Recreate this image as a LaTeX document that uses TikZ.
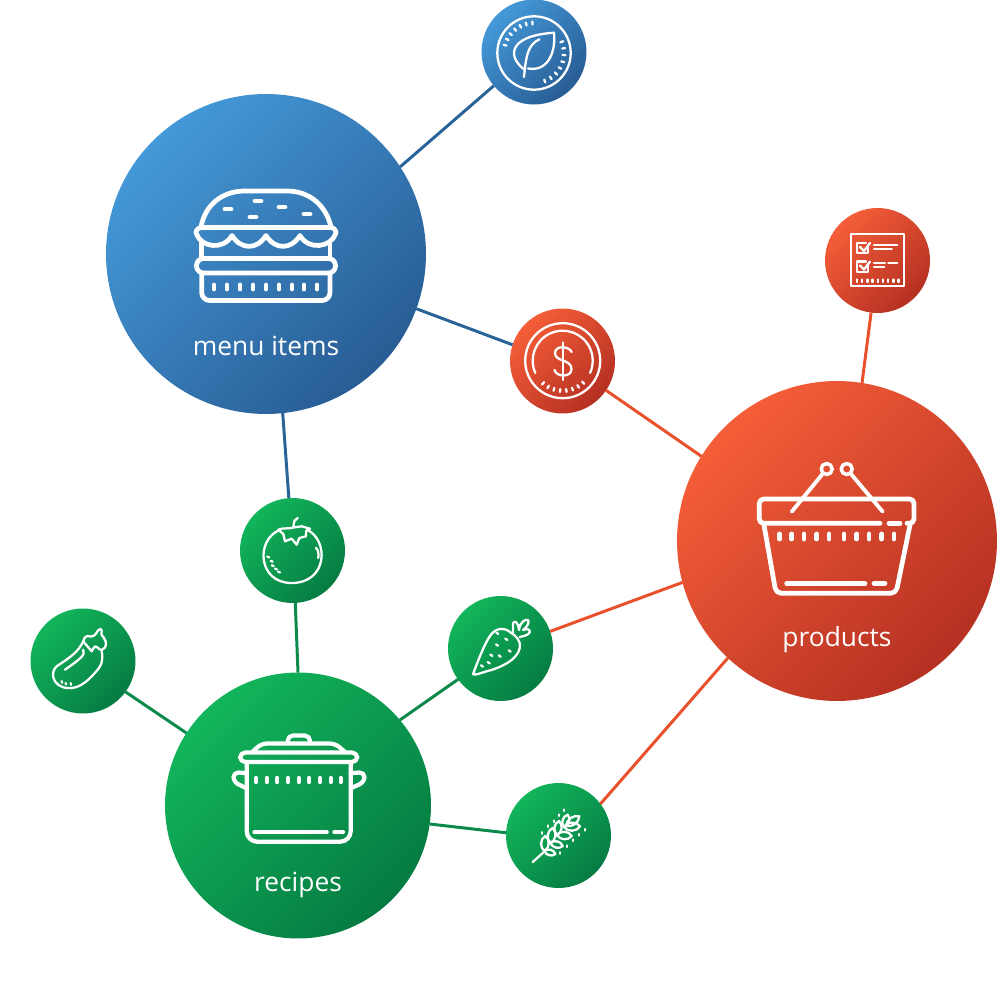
\documentclass[tikz,border=0pt]{standalone}
\usepackage{fontspec}
\setmainfont{Open Sans}
\usepackage{xcolor}

\definecolor{bluetop}{HTML}{4499D8}
\definecolor{bluelow}{HTML}{285C94}
\definecolor{redtop}{HTML}{F55E38}
\definecolor{redlow}{HTML}{B53022}
\definecolor{greentop}{HTML}{12B55B}
\definecolor{greenlow}{HTML}{057B42}
\definecolor{blueline}{HTML}{2A6398}
\definecolor{redline}{HTML}{E8512B}
\definecolor{greenline}{HTML}{0B8A4C}

\tikzset{
  hub/.style={circle, inner sep=0pt, outer sep=0pt, minimum size=#1},
  hub/.default=6.4cm,
  spoke/.style={hub=2.1cm},
  bluefill/.style={shade, top color=bluetop, bottom color=bluelow, shading angle=45},
  redfill/.style={shade, top color=redtop, bottom color=redlow, shading angle=45},
  greenfill/.style={shade, top color=greentop, bottom color=greenlow, shading angle=45},
  link/.style={line width=1.7pt},
  bigicon/.style={draw=white, line width=2.7pt, line cap=round, line join=round},
  thinicon/.style={draw=white, line width=1.3pt, line cap=round, line join=round},
  hublabel/.style={text=white, font=\fontsize{15}{18}\selectfont, inner sep=0pt, anchor=base}
}

\begin{document}
\begin{tikzpicture}[x=0.02cm, y=-0.02cm]

\useasboundingbox (0,0) rectangle (1000,1000);

% circles
\node[hub, bluefill] (menu) at (266,254) {};
\node[hub, redfill] (products) at (837,541) {};
\node[hub=5.32cm, greenfill] (recipes) at (298,805.5) {};

\node[spoke, bluefill] (leaf) at (534,52) {};
\node[spoke, redfill] (dollar) at (562.5,361) {};
\node[spoke, redfill] (checklist) at (877.5,260.5) {};
\node[spoke, greenfill] (tomato) at (292.5,550.5) {};
\node[spoke, greenfill] (eggplant) at (83,661) {};
\node[spoke, greenfill] (carrot) at (500.5,648.5) {};
\node[spoke, greenfill] (wheat) at (558.5,835.5) {};

% connectors
\draw[link, blueline] (menu.33.6) -- (leaf.220.2);
\draw[link, blueline] (menu.-20.9) -- (dollar.162.3);
\draw[link, blueline] (menu.-84.5) -- (tomato.94.5);
\draw[link, redline] (dollar.-34.6) -- (products.148.1);
\draw[link, redline] (checklist.-97.5) -- (products.81.8);
\draw[link, redline] (carrot.19.8) -- (products.195.4);
\draw[link, redline] (wheat.37.1) -- (products.227.8);
\draw[link, greenline] (tomato.-87.5) -- (recipes.90);
\draw[link, greenline] (eggplant.-36.4) -- (recipes.147.8);
\draw[link, greenline] (carrot.216.2) -- (recipes.40.4);
\draw[link, greenline] (wheat.177.8) -- (recipes.-8.1);

% labels
\node[hublabel] (menulabel) at (266,355) {menu items};
\node[hublabel] (productslabel) at (837,646) {products};
\node[hublabel] (recipeslabel) at (298,891) {recipes};

% burger
\draw[bigicon] (201,227) .. controls (205,205) and (222,191) .. (245,191) -- (287,191) .. controls (309,191) and (326,205) .. (331,227);
\draw[bigicon] (201,227.5) -- (331,227.5) .. controls (335,228) and (337,232) .. (335.5,234) .. controls (331,247) and (309,251) .. (300,235.5) .. controls (291,250) and (275,250) .. (266,235.5) .. controls (257,250) and (241,250) .. (232,235.5) .. controls (223,251) and (201,247) .. (196.5,234) .. controls (195,232) and (197,228) .. (201,227.5);
\draw[bigicon] (201.7,243) -- (201.7,258);
\draw[bigicon] (330,243) -- (330,258);
\draw[bigicon, rounded corners=4pt] (196.5,258.5) rectangle (335.5,273);
\draw[bigicon, rounded corners=4.5pt] (201.7,273) -- (201.7,300.5) -- (330,300.5) -- (330,273);
\foreach \tx in {214,227,240,253,266,279,292,304,317}
  \draw[bigicon] (\tx,285) -- (\tx,289);
\foreach \sx/\sy in {228/209, 258/201, 282/207, 307/214, 253/217}
  \draw[bigicon] (\sx-3,\sy) -- (\sx+3,\sy);

% basket
\draw[bigicon, line width=2pt] (826.7,469) circle (5.5);
\draw[bigicon, line width=2pt] (846.7,469) circle (5.5);
\draw[bigicon, line width=2.2pt] (822.5,474) -- (791.7,511.7);
\draw[bigicon, line width=2.2pt] (851,474) -- (882.7,511.7);
\draw[bigicon, rounded corners=2.5pt] (880,523.3) -- (759.3,523.3) -- (759.3,499) -- (914,499) -- (914,523.3) -- (907,523.3);
\draw[bigicon] (889,523.3) -- (900,523.3);
\draw[bigicon, rounded corners=3pt] (764,525) -- (776,593.3) -- (896,593.3) -- (910,525);
\draw[bigicon] (786.7,583.3) -- (865,583.3);
\draw[bigicon] (874,583.3) -- (885,583.3);
\foreach \tx in {779.5,791.7,804,816.7,829,844,856.7,869,881.7,894}
  \draw[bigicon] (\tx,534) -- (\tx,539);

% pot
\draw[bigicon, line width=2.4pt, rounded corners=3pt] (287.7,743) -- (287.7,735.5) -- (310,735.5) -- (310,743);
\draw[bigicon, line width=2.4pt, rounded corners=3pt] (253.3,751) -- (261.7,743.5) -- (335,743.5) -- (344,751);
\draw[bigicon, line width=2.4pt, rounded corners=3pt] (240,752.5) rectangle (357.3,762);
\draw[bigicon, line width=2.4pt, rounded corners=6pt] (246.7,762) -- (246.7,841.7) -- (350.7,841.7) -- (350.7,762);
\draw[bigicon, line width=2.4pt] (254.5,832.3) -- (326.7,832.3);
\draw[bigicon, line width=2.4pt] (334.5,832.3) -- (343,832.3);
\draw[bigicon, line width=2.4pt, rounded corners=3pt] (246.7,773.3) -- (233.5,772) -- (233.5,782) -- (246.7,788.3);
\draw[bigicon, line width=2.4pt, rounded corners=3pt] (350.7,773.3) -- (364.5,772) -- (364.5,782) -- (350.7,788.3);
\foreach \tx in {256,266.7,277.3,288,298.7,309.3,320,330.7,340.7}
  \draw[bigicon, line width=2.4pt] (\tx,778) -- (\tx,782);

% leaf
\draw[thinicon] (534,53) circle (36.7);
\draw[thinicon] (525,70) .. controls (508,58) and (506,36) .. (554,32.7) .. controls (556,52) and (548,72) .. (528,68.5);
\draw[thinicon] (539.3,39.3) .. controls (527,45) and (526,58) .. (524,77);
\begin{scope}[shift={(534,53)}]
\foreach \a in {195,207,...,273}
  \draw[thinicon] (\a:28.5) -- (\a:31.5);
\foreach \a in {-22,-9,...,80}
  \draw[thinicon] (\a:28.5) -- (\a:31.5);
\end{scope}

% dollar
\draw[thinicon] (562.7,360.7) circle (37.5);
\begin{scope}[shift={(562.7,360.7)}]
\draw[thinicon] (156:30) arc[start angle=156, end angle=384, radius=30];
\foreach \a in {47,59,...,131}
  \draw[thinicon] (\a:28.5) -- (\a:31.5);
\end{scope}
\draw[thinicon] (571.7,352) .. controls (569,346) and (555,345) .. (555,353) .. controls (555,362) and (571.5,359) .. (571.5,369) .. controls (571.5,378) and (556,377) .. (554.5,370);
\draw[thinicon] (562.7,342.5) -- (562.7,380);

% checklist
\draw[thinicon] (851,234) rectangle (904,286.3);
\draw[thinicon] (868.3,246) -- (868.3,253) -- (857.3,253) -- (857.3,243) -- (866,243);
\draw[thinicon] (860,247) -- (864,251) -- (870,243);
\draw[thinicon] (868.3,264.5) -- (868.3,272) -- (857.3,272) -- (857.3,261.5) -- (866,261.5);
\draw[thinicon] (860,265.5) -- (864,269.5) -- (870,261.5);
\draw[thinicon] (874,244.7) -- (897.3,244.7);
\draw[thinicon] (874,248.7) -- (891.7,248.7);
\draw[thinicon] (874,263) -- (885,263);
\draw[thinicon] (888.3,263) -- (897.3,263);
\draw[thinicon] (874,267.3) -- (884.3,267.3);
\foreach \tx in {857,862.2,867.4,872.6,877.8,883,888.2,893.4,898.6}
  \draw[thinicon] (\tx,279.5) -- (\tx,282);

% tomato
\draw[thinicon] (280,529.7) .. controls (255,540) and (258,583) .. (291.5,583) .. controls (328,583) and (329,540) .. (307,529.7);
\draw[thinicon] (293.3,527.5) .. controls (290,529) and (283,527.5) .. (278.3,529.7) -- (283.3,534) -- (285,541.3) -- (291.7,538.7) -- (296.7,544.7) -- (299.3,538) -- (306,536.3) -- (306,531.3) -- (310,528.7) -- (301.7,526.3) -- (293.3,527.5);
\draw[thinicon] (293.3,527.5) .. controls (294,521) and (294.5,519) .. (297.7,518);
\draw[thinicon] (316,548) .. controls (318,549.5) and (319,553) .. (318.3,558);
\foreach \dx/\dy in {268.3/557, 271.7/561.3, 272.7/565.7, 276/569, 279/572}
  \draw[thinicon] (\dx-1,\dy-0.4) -- (\dx+1,\dy+0.4);

% eggplant
\draw[thinicon] (83.3,641.3) .. controls (78,652) and (72,656) .. (56.7,666.3) .. controls (50,672) and (52,686) .. (66.7,688) .. controls (80,690) and (91,678) .. (99,668) .. controls (104,660) and (102,655) .. (101.7,651.7);
\draw[thinicon] (83.3,641.3) .. controls (84,637) and (87,635) .. (90,636.5) .. controls (94,637) and (96,634) .. (98.3,630) .. controls (100,628) and (102,629) .. (101.7,631) .. controls (101,635) and (102,636) .. (104,638) .. controls (107,642) and (107,648) .. (101.7,650) .. controls (99,650) and (97,646) .. (95,646.5) .. controls (93,648) and (92,651) .. (91.7,651.3) .. controls (89,648) and (86,645) .. (83.3,641.3);
\draw[thinicon] (65,669.7) .. controls (73,664) and (82,658) .. (83.5,654) -- (83.3,649.7);
\foreach \dx/\dy in {61.7/682, 65.7/683.7, 70.7/684}
  \draw[thinicon] (\dx,\dy-0.8) -- (\dx+0.4,\dy+0.8);

% carrot
\draw[thinicon] (473,674.3) .. controls (479,658) and (485,643) .. (490,636) .. controls (495,628) and (504,627) .. (510,632) .. controls (516,636) and (521,640) .. (519.7,648) .. controls (518,656) and (510,664) .. (491.3,670) .. controls (483,672) and (476,675.5) .. (473,674.3);
\draw[thinicon] (513,632.7) -- (513,626) .. controls (512,621) and (516,620) .. (518,625) -- (519,630) .. controls (520,622) and (525,619) .. (528,620) .. controls (529,622) and (529,625) .. (523,630) .. controls (527,628.5) and (530,629) .. (529.7,632) .. controls (529,635) and (524,636) .. (519.7,637);
\foreach \dx/\dy in {497.3/633.3, 506.3/639.3, 497/645, 509.7/651, 491.3/655.3, 499.7/656, 488.7/662.7, 482/666}
  \draw[thinicon] (\dx-1,\dy-0.7) -- (\dx+1,\dy+0.7);

% wheat
\draw[thinicon] (532.7,862) -- (545,851);
\foreach \gx/\gy/\lx/\ly/\rx/\ry in {544.5/851/545.3/836/555.3/854, 550.5/843/552.7/828/562.7/846, 557/835/559/821/571.7/836, 564/827/567.7/814.7/580/826.3}{
  \draw[thinicon] (\gx,\gy) to[bend left=60] (\lx,\ly) to[bend left=60] (\gx,\gy);
  \draw[thinicon] (\gx,\gy) to[bend left=60] (\rx,\ry) to[bend left=60] (\gx,\gy);
}
\draw[thinicon] (566,826) to[bend left=50] (579.3,816.3) to[bend left=50] (566,826);
\foreach \dx/\dy in {542/833, 548.3/826.3, 553.7/821.3, 558.7/815.3, 564.3/810.3, 585.3/829.7, 578.7/834.7, 572.7/840.3, 566.7/846.3, 560.3/853}
  \draw[thinicon] (\dx,\dy-0.8) -- (\dx,\dy+0.8);

\end{tikzpicture}
\end{document}
